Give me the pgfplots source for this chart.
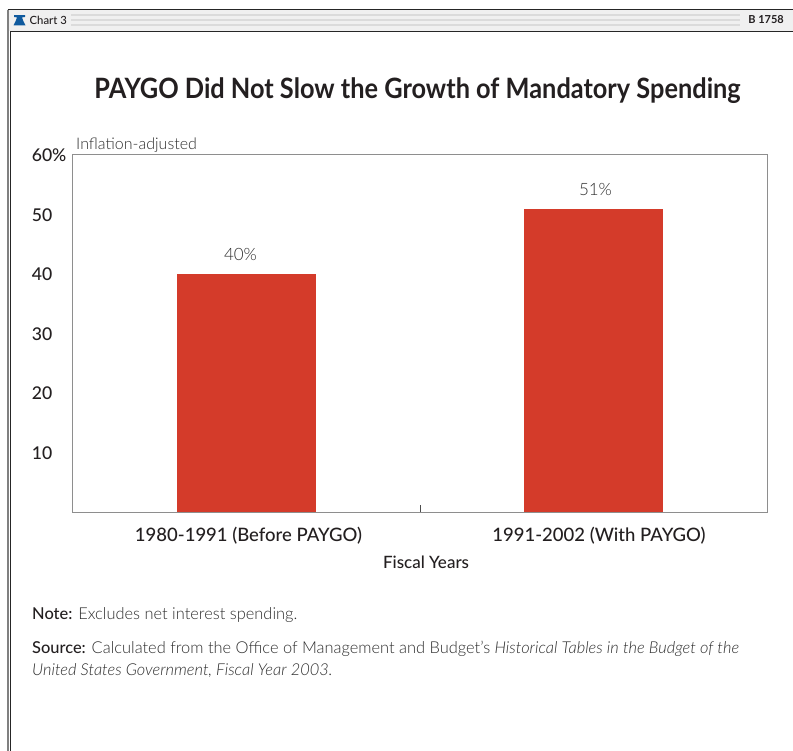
\documentclass[border=0pt]{standalone}
\usepackage{fontspec}
\usepackage{pgfplots}
\pgfplotsset{compat=1.18}
\setmainfont{Lato}
\newfontfamily\medfont{Lato Medium}
\newfontfamily\lightfont[ItalicFont={Lato Light Italic}]{Lato Light}
\definecolor{ink}{HTML}{231F20}
\definecolor{soft}{HTML}{2E2E2E}
\definecolor{barred}{HTML}{D43B2A}
\definecolor{axisgray}{HTML}{8E8E8E}
\definecolor{bell}{HTML}{0F5A9E}
\begin{document}
\begin{tikzpicture}[x=1bp,y=-1bp]
\useasboundingbox (0,0) rectangle (793,751);
\coordinate (plotorigin) at (73,512);
% page frame and header strip
\fill[white] (0,0) rectangle (793,751);
\fill[black!6] (8,10) rectangle (793,31);
\foreach \yy in {15,20,25} \fill[black!14] (71,\yy-0.8) rectangle (740,\yy+0.8);
\draw[black!85,line width=0.8bp] (7.5,9.7) -- (793,9.7);
\draw[black!85,line width=0.8bp] (10.5,31.2) -- (793,31.2);
\draw[black!50,line width=1.6bp] (8,10) -- (8,751);
\draw[black!85,line width=0.8bp] (10.5,31) -- (10.5,751);
% bell emblem
\fill[bell] (14,15.2) -- (25,15.2) -- (25,17) -- (22,17.4) -- (23.5,21.5) -- (25.5,25.3) -- (13.5,25.3) -- (15.5,21.5) -- (17,17.4) -- (14,17) -- cycle;
\node[anchor=west,inner sep=0,text=ink,font=\fontsize{11.3bp}{12bp}\medfont] at (29.5,20) {Chart 3};
\node[anchor=east,inner sep=0,text=ink,font=\fontsize{11bp}{12bp}\bfseries\selectfont] at (784,20) {B 1758};
% title
\node[anchor=center,inner sep=0,text=ink,font=\fontsize{28bp}{30bp}\bfseries\selectfont] at (417.5,91) {\scalebox{0.905}[1]{PAYGO Did Not Slow the Growth of Mandatory Spending}};
\begin{axis}[
  at={(plotorigin)}, anchor=south west,
  scale only axis, width=694bp, height=357bp,
  xmin=-0.5, xmax=1.5, ymin=0, ymax=60,
  ybar, bar width=139bp, bar shift=0pt,
  axis line style={axisgray,line width=1bp},
  xtick={0,1},
  xticklabels={\hspace{4bp}1980-1991 (Before PAYGO),\hspace{11bp}1991-2002 (With PAYGO)},
  minor xtick={0.5},
  tick align=inside,
  major tick length=0pt,
  minor tick length=7bp,
  minor tick style={black!70,line width=0.7bp},
  xtick pos=bottom,
  ytick={10,20,30,40,50,60},
  yticklabels={10,20,30,40,50,60\%},
  ytick pos=left,
  tick label style={text=ink,font=\fontsize{18.5bp}{20bp}\medfont},
  xticklabel style={inner sep=0pt,yshift=-15bp},
  yticklabel style={font=\fontsize{17.6bp}{20bp}\medfont,inner sep=0pt,anchor=east,text width=33bp,align=left,xshift=-8bp,yshift=-0.5bp},
  nodes near coords={\pgfmathprintnumber[assume math mode=true]{\pgfplotspointmeta}\%},
  every node near coord/.style={text=soft,font=\fontsize{17bp}{18bp}\lightfont,inner sep=0pt,anchor=south,yshift=13bp},
]
\addplot[fill=barred,draw=none,every node near coord/.append style={xshift=-6bp}] coordinates {(0,40)};
\addplot[fill=barred,draw=none,every node near coord/.append style={xshift=2bp}] coordinates {(1,51)};
\end{axis}
% axis annotations and notes
\node[anchor=west,inner sep=0,text=soft,font=\fontsize{16bp}{18bp}\lightfont] at (76,145) {Inflation-adjusted};
\node[inner sep=0,text=ink,font=\fontsize{17bp}{20bp}\medfont] at (426,562) {Fiscal Years};
\node[anchor=west,inner sep=0,text=soft,font=\fontsize{16.4bp}{18bp}\lightfont] at (32,615) {{\medfont\color{ink}Note:} Excludes net interest spending.};
\node[anchor=west,inner sep=0,text=soft,font=\fontsize{16.4bp}{18bp}\lightfont] at (32,649) {{\medfont\color{ink}Source:} Calculated from the Office of Management and Budget’s \textit{Historical Tables in the Budget of the}};
\node[anchor=west,inner sep=0,text=soft,font=\fontsize{16.4bp}{18bp}\lightfont\itshape] at (32,671) {United States Government, Fiscal Year 2003.};
\end{tikzpicture}
\end{document}
